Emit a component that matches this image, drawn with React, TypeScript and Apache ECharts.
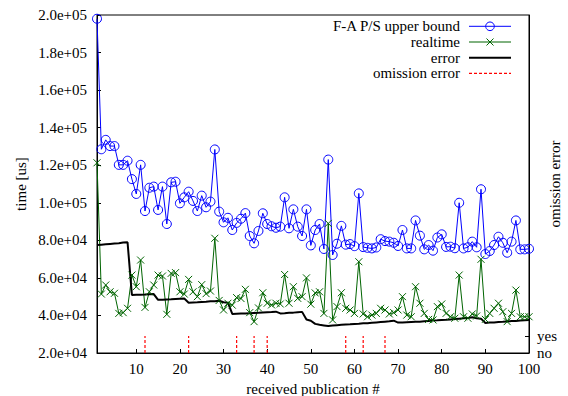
import React, { useEffect, useRef } from 'react';
import * as echarts from 'echarts';

const FONT = '"Liberation Serif", "Times New Roman", serif';

// publication # 1..100
const upperBound = [
  198000, 128500, 133500, 130200, 130200, 120200, 120200, 122400, 112600, 104700,
  120200, 95600, 108000, 108600, 96200, 108600, 88700, 110900, 111200, 99700,
  102900, 105900, 101000, 95600, 103800, 97600, 100600, 128400, 95300, 89600,
  92000, 85500, 89300, 91500, 94500, 82300, 78400, 85000, 94400, 88700,
  87500, 86700, 87300, 102900, 86400, 96500, 87300, 82300, 96500, 77300,
  85500, 88700, 75400, 123000, 72200, 78200, 87700, 77700, 78000, 76900,
  105000, 76400, 76000, 75700, 76200, 80600, 79600, 79300, 78700, 77000,
  85500, 75700, 75700, 90600, 82500, 75200, 77500, 74500, 81500, 83200,
  76500, 76600, 75800, 100000, 75700, 76300, 79300, 76300, 107200, 72700,
  74300, 77500, 81900, 78700, 73400, 79300, 90600, 75200, 75200, 75500,
];

const realtime = [
  121300, 51400, 56200, 52600, 51800, 41100, 41500, 43800, 61500, 55300,
  69500, 44300, 52600, 56200, 61500, 61000, 40600, 62400, 62800, 52600,
  51400, 59200, 52600, 50000, 56400, 51600, 53000, 81100, 48000, 42900,
  46500, 45500, 49500, 49000, 53900, 41500, 36700, 44000, 52100, 46500,
  45600, 46500, 46100, 61800, 46500, 55300, 49100, 50000, 60000, 46000,
  52000, 52600, 41100, 89000, 37600, 44700, 52100, 43800, 42900, 41100,
  68600, 40800, 39300, 40200, 41100, 43800, 42900, 40800, 41500, 42900,
  50000, 40200, 39300, 55300, 46500, 41100, 37900, 37600, 44700, 46100,
  41100, 39300, 38500, 61500, 39300, 38500, 40800, 39700, 69900, 37900,
  41100, 43800, 46500, 42000, 36700, 41100, 53500, 39300, 39300, 39300,
];

const errorBound = [
  77500, 77700, 77900, 78100, 78300, 78500, 78800, 79000, 50900, 51000,
  51000, 51100, 51300, 51400, 48300, 48400, 48500, 48600, 48800, 48900,
  49000, 46800, 46900, 47000, 47200, 47300, 47500, 47600, 47800, 47000,
  46800, 40800, 40900, 41000, 41100, 41200, 41300, 41400, 41600, 41700,
  41800, 42000, 41100, 41200, 41400, 41500, 41700, 41900, 37800, 37200,
  35500, 35000, 34700, 34400, 34600, 34800, 35000, 35200, 35300, 35500,
  35600, 35800, 35900, 36100, 36300, 36500, 36700, 36900, 37200, 36200,
  36300, 36400, 36500, 36600, 36700, 36900, 37100, 37300, 37400, 37600,
  37700, 37900, 38100, 38300, 38500, 38700, 39000, 38500, 38300, 36000,
  36200, 36300, 36500, 36600, 36800, 37000, 37100, 37300, 37500, 37600,
];

// publications where an omission error occurred (yes = 1)
const omissionAt = [12, 22, 33, 37, 40, 58, 62, 67];

const xTicks = [10, 20, 30, 40, 50, 60, 70, 80, 90, 100];
const omissionTicks = [0, 1];
const omissionLabels = ['no', 'yes'];

const legendItems = ['F-A P/S upper bound', 'realtime', 'error', 'omission error'];

const fmtExp = (v: number) =>
  v.toExponential(1).replace(/e([+-])(\d)$/, 'e$10$2');

export default function App() {
  const ref = useRef<HTMLDivElement>(null);

  useEffect(() => {
    if (!ref.current) return;
    const chart = echarts.init(ref.current, undefined, { renderer: 'svg' });

    const toPairs = (arr: number[]) => arr.map((v, i) => [i + 1, v]);
    const omissionData: any[] = [];
    omissionAt.forEach((p) => {
      omissionData.push([p, 0], [p, 1], [p, '-']);
    });

    const rowY = [26.3, 42, 57.7, 73.4];
    const lx1 = 469, lx2 = 511, lxc = 490, textX = 460;
    const xs = 3.5;

    const graphic: any[] = [
      ...legendItems.map((t, k) => ({
        type: 'text',
        x: textX,
        y: rowY[k],
        style: { text: t, align: 'right', verticalAlign: 'middle', fontSize: 15, fontFamily: FONT, fill: '#000' },
      })),
      { type: 'line', shape: { x1: lx1, y1: rowY[0], x2: lx2, y2: rowY[0] }, style: { stroke: '#0000ff', lineWidth: 1 } },
      { type: 'circle', shape: { cx: lxc, cy: rowY[0], r: 4.3 }, style: { stroke: '#0000ff', fill: 'none', lineWidth: 1 } },
      { type: 'line', shape: { x1: lx1, y1: rowY[1], x2: lx2, y2: rowY[1] }, style: { stroke: '#006400', lineWidth: 1 } },
      { type: 'line', shape: { x1: lxc - xs, y1: rowY[1] - xs, x2: lxc + xs, y2: rowY[1] + xs }, style: { stroke: '#006400', lineWidth: 1 } },
      { type: 'line', shape: { x1: lxc - xs, y1: rowY[1] + xs, x2: lxc + xs, y2: rowY[1] - xs }, style: { stroke: '#006400', lineWidth: 1 } },
      { type: 'line', shape: { x1: lx1, y1: rowY[2], x2: lx2, y2: rowY[2] }, style: { stroke: '#000', lineWidth: 2 } },
      { type: 'line', shape: { x1: lx1, y1: rowY[3], x2: lx2, y2: rowY[3] }, style: { stroke: '#ff0000', lineWidth: 1.2, lineDash: [3, 2] } },
      {
        type: 'text', x: 21, y: 184, rotation: Math.PI / 2,
        style: { text: 'time [us]', align: 'center', verticalAlign: 'middle', fontSize: 15, fontFamily: FONT, fill: '#000' },
      },
      {
        type: 'text', x: 555, y: 184, rotation: Math.PI / 2,
        style: { text: 'omission error', align: 'center', verticalAlign: 'middle', fontSize: 15, fontFamily: FONT, fill: '#000' },
      },
      {
        type: 'text', x: 313, y: 389,
        style: { text: 'received publication #', align: 'center', verticalAlign: 'middle', fontSize: 15, fontFamily: FONT, fill: '#000' },
      },
    ];

    const option: any = {
      animation: false,
      textStyle: { fontFamily: FONT, fontSize: 15, color: '#000' },
      grid: { left: 97, right: 39, top: 15, bottom: 43, show: true, borderColor: '#000', borderWidth: 1 },
      xAxis: {
        type: 'value', min: 1, max: 100,
        axisLine: { show: true, lineStyle: { color: '#000', width: 1 } },
        axisTick: { show: true, inside: true, length: 4, lineStyle: { color: '#000' }, customValues: xTicks },
        axisLabel: { customValues: xTicks, margin: 8, fontSize: 15, fontFamily: FONT, color: '#000' },
        splitLine: { show: false },
      },
      yAxis: [
        {
          type: 'value', min: 20000, max: 200000, interval: 20000,
          axisLine: { show: true, lineStyle: { color: '#000', width: 1 } },
          axisTick: { show: true, inside: true, length: 4, lineStyle: { color: '#000' } },
          axisLabel: { formatter: fmtExp, margin: 10, fontSize: 15, fontFamily: FONT, color: '#000' },
          splitLine: { show: false },
        },
        {
          type: 'value', min: 0, max: 20, position: 'right',
          axisLine: { show: true, lineStyle: { color: '#000', width: 1 } },
          axisTick: { show: true, inside: true, length: 4, lineStyle: { color: '#000' }, customValues: omissionTicks },
          axisLabel: {
            customValues: omissionTicks,
            formatter: (v: number) => omissionLabels[omissionTicks.indexOf(v)] ?? '',
            margin: 8, fontSize: 15, fontFamily: FONT, color: '#000',
          },
          splitLine: { show: false },
        },
      ],
      series: [
        {
          type: 'line', name: legendItems[0], data: toPairs(upperBound),
          symbol: 'circle', symbolSize: 9, showAllSymbol: true,
          lineStyle: { color: '#0000ff', width: 1 },
          itemStyle: { color: 'rgba(0,0,0,0)', borderColor: '#0000ff', borderWidth: 1 },
        },
        {
          type: 'line', name: legendItems[1], data: toPairs(realtime),
          symbol: 'path://M0,0L10,10M10,0L0,10', symbolSize: 7, showAllSymbol: true,
          lineStyle: { color: '#006400', width: 1 },
          itemStyle: { color: 'rgba(0,0,0,0)', borderColor: '#006400', borderWidth: 1 },
        },
        {
          type: 'line', name: legendItems[2], data: toPairs(errorBound),
          symbol: 'none',
          lineStyle: { color: '#000', width: 2 },
        },
        {
          type: 'line', name: legendItems[3], yAxisIndex: 1, data: omissionData,
          symbol: 'none', connectNulls: false,
          lineStyle: { color: '#ff0000', width: 1.2, type: [3, 2] },
        },
      ],
      graphic,
    };

    chart.setOption(option);
    return () => chart.dispose();
  }, []);

  return (
    <div
      ref={ref}
      style={{ position: 'fixed', left: 0, top: 0, width: 568, height: 396, background: '#fff' }}
    />
  );
}
